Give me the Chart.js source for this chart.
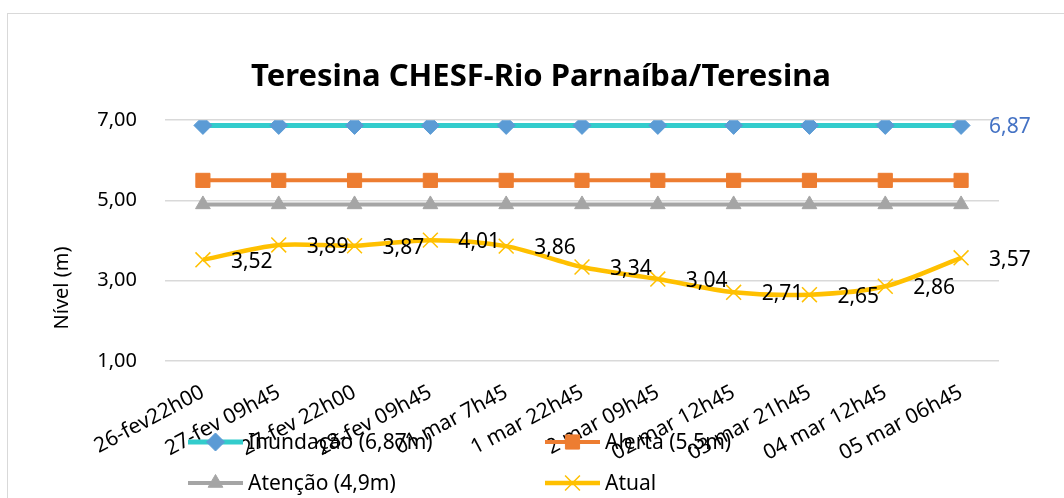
<!DOCTYPE html>
<html>
<head>
<meta charset="utf-8">
<script src="https://cdn.jsdelivr.net/npm/chart.js@4/dist/chart.umd.min.js"></script>
<style>
  html,body{margin:0;padding:0;background:#fff;}
  #wrap{position:relative;width:1064px;height:498px;overflow:hidden;}
  #frame{position:absolute;left:7px;top:13px;width:1100px;height:600px;border:1px solid #d9d9d9;box-sizing:border-box;}
  canvas{position:absolute;left:0;top:0;}
</style>
</head>
<body>
<div id="wrap">
  <div id="frame"></div>
  <canvas id="chart" width="1064" height="498"></canvas>
</div>
<script>
// dados
const categories=["26-fev22h00","27-fev 09h45","27-fev 22h00","28-fev 09h45","01 mar 7h45","1 mar 22h45","2 mar 09h45","02 mar 12h45","03 mar 21h45","04 mar 12h45","05 mar 06h45"];
const inundacao=[6.87,6.87,6.87,6.87,6.87,6.87,6.87,6.87,6.87,6.87,6.87];
const alerta=[5.5,5.5,5.5,5.5,5.5,5.5,5.5,5.5,5.5,5.5,5.5];
const atencao=[4.9,4.9,4.9,4.9,4.9,4.9,4.9,4.9,4.9,4.9,4.9];
const atual=[3.52,3.89,3.87,4.01,3.86,3.34,3.04,2.71,2.65,2.86,3.57];
const yTicks=[1,3,5,7];

const FONT="'Noto Sans', sans-serif";
const fmt=v=>v.toFixed(2).replace(".",",");

// rótulos de dados (à direita do ponto)
const dataLabels={
  id:"dataLabels",
  afterDatasetsDraw(chart){
    const ctx=chart.ctx;
    chart.data.datasets.forEach((ds,i)=>{
      if(!ds.labelMode) return;
      const meta=chart.getDatasetMeta(i);
      ctx.save();
      ctx.font="21px "+FONT;
      ctx.fillStyle=ds.labelColor;
      ctx.textBaseline="middle";
      ctx.textAlign="left";
      meta.data.forEach((pt,j)=>{
        if(ds.labelMode==="last" && j!==meta.data.length-1) return;
        ctx.fillText(fmt(ds.data[j]),pt.x+28,pt.y+2);
      });
      ctx.restore();
    });
  }
};

// legenda e título do eixo Y
const extras={
  id:"extras",
  afterDraw(chart){
    const ctx=chart.ctx;
    const pos=[[188,442],[545,442],[188,483],[545,483]];
    chart.data.datasets.forEach((ds,i)=>{
      const [x,y]=pos[i];
      ctx.save();
      ctx.strokeStyle=ds.borderColor;
      ctx.lineWidth=ds.borderWidth;
      ctx.beginPath();ctx.moveTo(x,y);ctx.lineTo(x+55,y);ctx.stroke();
      ctx.fillStyle=ds.pointBackgroundColor;ctx.strokeStyle=ds.pointBorderColor;
      ctx.lineWidth=ds.pointBorderWidth;
      Chart.helpers.drawPoint(ctx,{pointStyle:ds.pointStyle,radius:ds.pointRadius,borderWidth:ds.pointBorderWidth,rotation:0},x+27.5,y);
      ctx.fillStyle="#000";
      ctx.font="21px "+FONT;
      ctx.textBaseline="middle";
      ctx.fillText(ds.label,x+60,y+1);
      ctx.restore();
    });
    ctx.save();
    ctx.translate(62,288);
    ctx.rotate(-Math.PI/2);
    ctx.font="20px "+FONT;
    ctx.fillStyle="#000";
    ctx.textAlign="center";
    ctx.textBaseline="middle";
    ctx.fillText("Nível (m)",0,0);
    ctx.restore();
  }
};

new Chart(document.getElementById("chart"),{
  type:"line",
  data:{
    labels:categories,
    datasets:[
      {label:"Inundação (6,87m)",data:inundacao,borderColor:"#33CCCC",borderWidth:5,pointStyle:"rectRot",pointRadius:9,
       pointBackgroundColor:"#5B9BD5",pointBorderColor:"#5B9BD5",pointBorderWidth:1,labelMode:"last",labelColor:"#4472C4"},
      {label:"Alerta (5,5m)",data:alerta,borderColor:"#ED7D31",borderWidth:4,pointStyle:"rect",pointRadius:10,
       pointBackgroundColor:"#ED7D31",pointBorderColor:"#ED7D31",pointBorderWidth:1},
      {label:"Atenção (4,9m)",data:atencao,borderColor:"#A5A5A5",borderWidth:4,pointStyle:"triangle",pointRadius:8.5,
       pointBackgroundColor:"#A5A5A5",pointBorderColor:"#A5A5A5",pointBorderWidth:1},
      {label:"Atual",data:atual,borderColor:"#FFC000",borderWidth:4.5,pointStyle:"crossRot",pointRadius:10.5,tension:0.3,
       pointBackgroundColor:"#FFC000",pointBorderColor:"#FFC000",pointBorderWidth:1.5,labelMode:"all",labelColor:"#000"}
    ]
  },
  options:{
    responsive:false,
    animation:false,
    layout:{padding:{left:83,right:65,top:0,bottom:13}},
    plugins:{
      legend:{display:false},
      tooltip:{enabled:false},
      title:{display:true,text:"Teresina CHESF-Rio Parnaíba/Teresina",color:"#000",
        font:{family:FONT,size:31,weight:"bold"},padding:{top:59,bottom:24}}
    },
    scales:{
      x:{
        offset:true,
        grid:{display:false,drawTicks:false},
        border:{display:false},
        ticks:{color:"#000",font:{family:FONT,size:21},minRotation:28,maxRotation:28,padding:19,autoSkip:false}
      },
      y:{
        min:1,max:7,
        afterBuildTicks(axis){axis.ticks=yTicks.map(v=>({value:v}));},
        afterFit(axis){axis.width=82;},
        grid:{color:"#d9d9d9",lineWidth:1.5,drawTicks:false},
        border:{display:false},
        ticks:{color:"#000",font:{family:FONT,size:20},padding:28,callback:v=>fmt(v)}
      }
    }
  },
  plugins:[dataLabels,extras]
});
</script>
</body>
</html>
